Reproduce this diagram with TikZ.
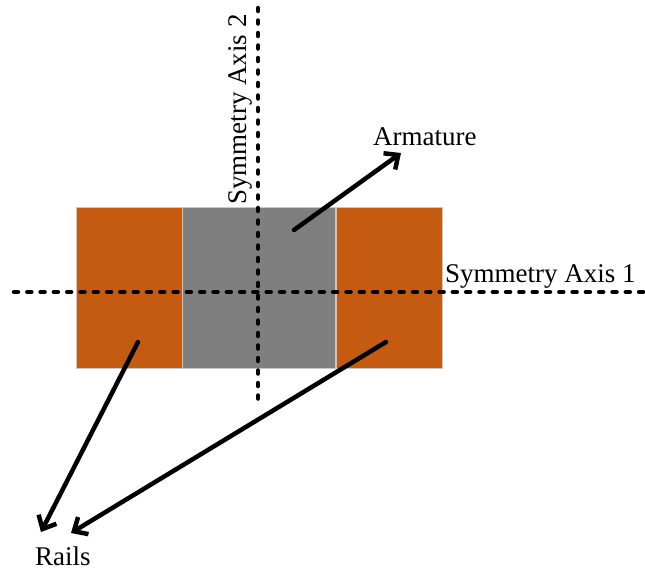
\documentclass[tikz,border=0pt]{standalone}
\usepackage{fontspec}
\setmainfont{Liberation Serif}
\usetikzlibrary{arrows.meta}
\definecolor{railc}{HTML}{C55A11}
\definecolor{armc}{HTML}{7F7F7F}
\definecolor{edgec}{HTML}{C8C8C8}
\begin{document}
\begin{tikzpicture}[x=1pt,y=-1pt,
  block/.style={draw=edgec, line width=0.8pt, inner sep=0pt, minimum height=161pt},
  railbox/.style={block, fill=railc, minimum width=106pt},
  armbox/.style={block, fill=armc, minimum width=153pt},
  axisline/.style={line width=4.5pt, line cap=round},
  pointer/.style={line width=4.5pt, line cap=round, -{Straight Barb[length=11pt,width=20pt,line width=4.5pt]}},
  lbl/.style={inner sep=0pt, font=\fontsize{27}{32}\selectfont}]
\useasboundingbox (0,0) rectangle (645,571);
\node[railbox] (lr) at (129,287.5) {};
\node[armbox] (arm) at (258.5,287.5) {};
\node[railbox] (rr) at (389,287.5) {};
% symmetry axes
\coordinate (h1) at (14,292);
\coordinate (h2) at (645,292);
\coordinate (v1) at (258,8);
\coordinate (v2) at (258,406);
\draw[axisline, dash pattern=on 4pt off 9.3pt] (h1) -- (h2);
\draw[axisline, dash pattern=on 3pt off 9.5pt] (v1) -- (v2);
% labels
\node[lbl, anchor=base west] (armlbl) at (373,145) {Armature};
\node[lbl, anchor=base west] (raillbl) at (35,565) {Rails};
\node[lbl, anchor=base west] (ax1) at (445,282) {Symmetry Axis 1};
\node[lbl, anchor=base west, rotate=90] (ax2) at (246,205) {Symmetry Axis 2};
% pointers
\coordinate (sa) at (294,230);
\coordinate (ta) at (401,153);
\coordinate (sl) at (138,342);
\coordinate (tl) at (41,532);
\coordinate (sr) at (386,342);
\coordinate (tr) at (71,533);
\draw[pointer] (sa) -- (ta);
\draw[pointer] (sl) -- (tl);
\draw[pointer] (sr) -- (tr);
\end{tikzpicture}
\end{document}
